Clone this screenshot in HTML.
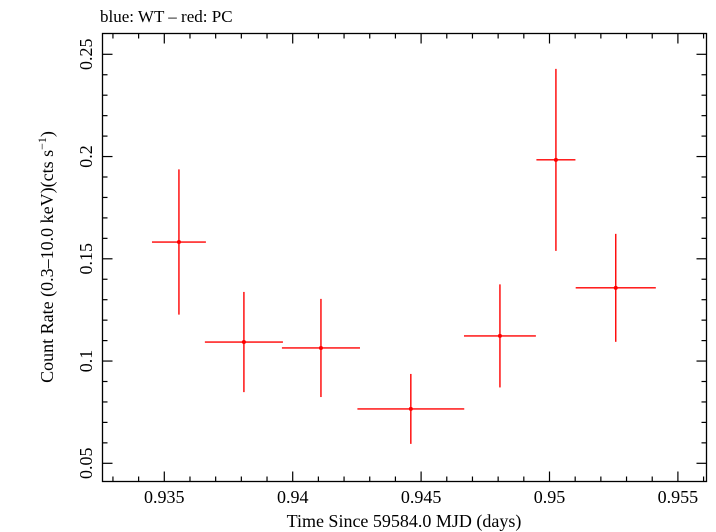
<!DOCTYPE html>
<html><head><meta charset="utf-8"><style>
html,body{margin:0;padding:0;background:#fff;}
svg{display:block;font-family:"Liberation Serif",serif;}
</style></head><body>
<svg id="chart" width="716" height="532">
<text x="100" y="22" font-size="17">blue: WT – red: PC</text>
<rect x="102.5" y="33.5" width="604" height="448" fill="none" stroke="#000" stroke-width="1.3"/>
<g id="ticks"></g>
<g id="marks"></g>
<text x="404" y="527" font-size="18" text-anchor="middle">Time Since 59584.0 MJD (days)</text>
<text transform="translate(53,257) rotate(-90)" font-size="18" text-anchor="middle">Count Rate (0.3–10.0 keV)(cts s<tspan font-size="12" dy="-7">−1</tspan><tspan dy="7">)</tspan></text>
</svg>
<script>
const times=[0.93557,0.93810,0.94110,0.94460,0.94807,0.95025,0.95258];
const timeErr=[0.00105,0.00152,0.00152,0.00208,0.0014,0.00076,0.00156];
const rates=[0.1582,0.1093,0.1064,0.0766,0.1123,0.1984,0.1358];
const rateErr=[0.0355,0.0245,0.024,0.0171,0.0252,0.0445,0.0264];
const xTicks=[0.935,0.94,0.945,0.95,0.955];
const xTickLabels=["0.935","0.94","0.945","0.95","0.955"];
const yTicks=[0.05,0.1,0.15,0.2,0.25];
const yTickLabels=["0.05","0.1","0.15","0.2","0.25"];
const L=102.5,R=706.5,T=33.5,B=481.5;
function xs(v){return 164.3+(v-0.935)*25680;}
function ys(v){return 54.3+(0.25-v)*2045;}
const NS="http://www.w3.org/2000/svg";
function mk(tag,attrs,parent){const e=document.createElementNS(NS,tag);for(const k in attrs)e.setAttribute(k,attrs[k]);parent.appendChild(e);return e;}
const tg=document.getElementById('ticks');
const mg=document.getElementById('marks');
// minor ticks x
for(let i=-2;i<=27;i++){const v=0.933+i*0.001;const x=xs(v);if(x<L+1||x>R-1)continue;
 const major=Math.abs(Math.round(v*200)-v*200)<1e-6;const len=major?10:5;
 const a=mk('line',{x1:x,x2:x,y1:B,y2:B-len,stroke:'#000','stroke-width':1.2},tg);
 
 
 const b=mk('line',{x1:x,x2:x,y1:T,y2:T+len,stroke:'#000','stroke-width':1.2},tg);
 
 }
for(let i=0;i<=30;i++){const v=0.04+i*0.01;const y=ys(v);if(y<T+1||y>B-1)continue;
 const major=Math.abs(Math.round(v*20)-v*20)<1e-6;const len=major?10:5;
 const a=mk('line',{x1:L,x2:L+len,y1:y,y2:y,stroke:'#000','stroke-width':1.2},tg);
 
 
 const b=mk('line',{x1:R,x2:R-len,y1:y,y2:y,stroke:'#000','stroke-width':1.2},tg);
 
 }
xTicks.forEach((v,i)=>{const t=mk('text',{x:xs(v),y:503,'font-size':18,'text-anchor':'middle'},tg);t.textContent=xTickLabels[i];
 
 });
yTicks.forEach((v,i)=>{const t=mk('text',{transform:`translate(92,${ys(v)}) rotate(-90)`,'font-size':18,'text-anchor':'middle'},tg);t.textContent=yTickLabels[i];
 
 });
times.forEach((t,i)=>{const g=mk('g',{},mg);
 
 
 const cx=xs(t),cy=ys(rates[i]);
 mk('line',{x1:xs(t-timeErr[i]),x2:xs(t+timeErr[i]),y1:cy,y2:cy,stroke:'#f00','stroke-width':1.4},g);
 mk('line',{x1:cx,x2:cx,y1:ys(rates[i]+rateErr[i]),y2:ys(rates[i]-rateErr[i]),stroke:'#f00','stroke-width':1.4},g);
 mk('circle',{cx:cx,cy:cy,r:2,fill:'#f00'},g);});
</script>
</body></html>
